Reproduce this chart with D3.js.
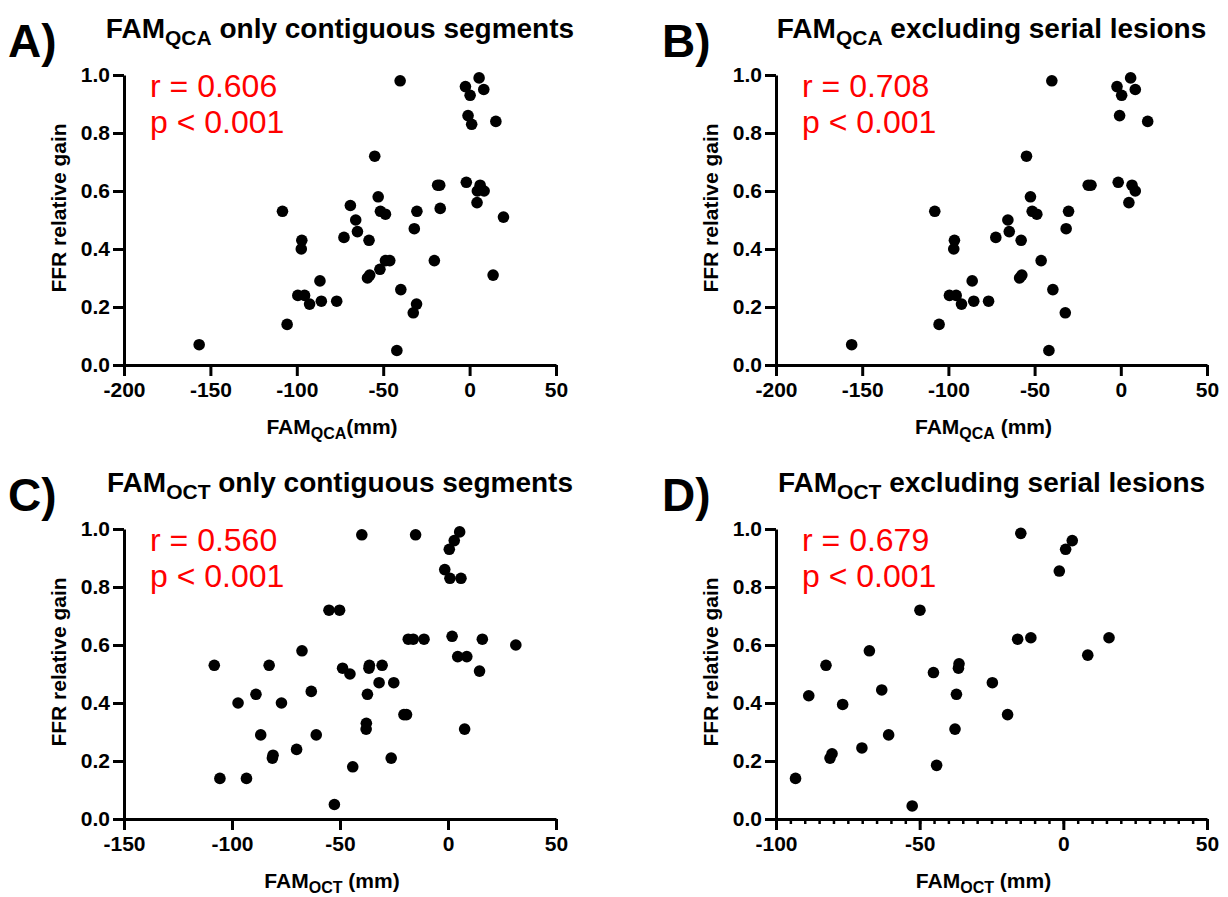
<!DOCTYPE html>
<html>
<head>
<meta charset="utf-8">
<script src="https://cdn.jsdelivr.net/npm/d3@7"></script>
<style>
  html, body { margin: 0; padding: 0; background: #fff; }
  svg { display: block; font-family: "Liberation Sans", Arial, sans-serif; }
</style>
</head>
<body>
<svg id="chart" width="1228" height="897"></svg>
<script>
// ---------- data ----------
const yTicks = [0, 0.2, 0.4, 0.6, 0.8, 1.0];
const xTicksQCA = [-200, -150, -100, -50, 0, 50];
const xTicksOCTc = [-150, -100, -50, 0, 50];
const xTicksOCTd = [-100, -50, 0, 50];

const panelLetters = ["A)", "B)", "C)", "D)"];
const titleSubs = ["QCA", "QCA", "OCT", "OCT"];
const titleRest = [" only contiguous segments", " excluding serial lesions", " only contiguous segments", " excluding serial lesions"];
const xLabelRest = ["(mm)", " (mm)", " (mm)", " (mm)"];
const yLabel = "FFR relative gain";
const rValues = ["r = 0.606", "r = 0.708", "r = 0.560", "r = 0.679"];
const pValues = ["p < 0.001", "p < 0.001", "p < 0.001", "p < 0.001"];

const aX = [-156.5,-108.3,-105.6,-97.1,-97.4,-99.4,-95.5,-92.6,-86.6,-85.8,-76.9,-72.7,-69.0,-65.9,-64.9,-58.2,-54.9,-52.9,-59.1,-57.8,-51.9,-51.6,-48.7,-48.7,-46.2,-40.2,-39.8,-42.1,-32.0,-30.5,-32.6,-30.7,-20.4,-18.5,-17.3,-17.0,-2.4,0.3,5.5,8.2,-0.9,1.2,15.2,-1.9,6.1,4.5,8.4,4.3,19.6,13.6];
const aY = [0.07,0.53,0.14,0.43,0.40,0.24,0.24,0.21,0.29,0.22,0.22,0.44,0.55,0.50,0.46,0.43,0.72,0.58,0.30,0.31,0.33,0.53,0.52,0.36,0.36,0.98,0.26,0.05,0.47,0.53,0.18,0.21,0.36,0.62,0.62,0.54,0.96,0.93,0.99,0.95,0.86,0.83,0.84,0.63,0.62,0.60,0.60,0.56,0.51,0.31];

const bX = [-156.1,-107.9,-105.4,-96.5,-96.9,-99.4,-95.5,-92.4,-86.2,-85.3,-76.7,-72.5,-65.5,-64.7,-57.8,-54.7,-52.4,-58.7,-57.4,-51.4,-48.7,-46.2,-40.0,-39.4,-41.7,-31.7,-30.3,-32.2,-18.9,-17.3,-2.2,0.5,5.7,8.4,-0.7,15.6,-1.5,6.5,8.4,4.7];
const bY = [0.07,0.53,0.14,0.43,0.40,0.24,0.24,0.21,0.29,0.22,0.22,0.44,0.50,0.46,0.43,0.72,0.58,0.30,0.31,0.53,0.52,0.36,0.98,0.26,0.05,0.47,0.53,0.18,0.62,0.62,0.96,0.93,0.99,0.95,0.86,0.84,0.63,0.62,0.60,0.56];

const cX = [-108.2,-105.6,-93.3,-97.2,-88.9,-82.8,-86.7,-81.0,-81.3,-77.1,-70.1,-67.6,-63.3,-61.0,-55.1,-50.2,-52.6,-48.8,-45.4,-44.1,-39.9,-37.3,-36.6,-36.4,-37.8,-37.9,-30.5,-31.9,-25.1,-26.3,-20.4,-19.2,-18.4,-16.1,-11.1,-15.0,-1.5,0.6,2.9,5.4,0.9,6.0,1.9,4.5,8.7,7.7,15.9,14.6,31.4];
const cY = [0.53,0.14,0.14,0.40,0.43,0.53,0.29,0.22,0.21,0.40,0.24,0.58,0.44,0.29,0.72,0.72,0.05,0.52,0.50,0.18,0.98,0.43,0.52,0.53,0.33,0.31,0.53,0.47,0.47,0.21,0.36,0.36,0.62,0.62,0.62,0.98,0.86,0.93,0.96,0.99,0.83,0.83,0.63,0.56,0.56,0.31,0.62,0.51,0.60];

const dX = [-93.2,-88.6,-82.6,-81.2,-80.5,-76.8,-70.1,-67.5,-63.2,-60.8,-52.6,-49.9,-45.2,-44.1,-37.7,-37.2,-36.5,-36.3,-24.7,-19.4,-15.9,-14.8,-11.3,-1.4,0.8,3.1,8.5,15.9];
const dY = [0.14,0.425,0.53,0.21,0.225,0.395,0.245,0.58,0.445,0.29,0.045,0.72,0.505,0.185,0.31,0.43,0.52,0.535,0.47,0.36,0.62,0.985,0.625,0.855,0.93,0.96,0.565,0.625];

// ---------- layout ----------
const FONT = '"Liberation Sans", Arial, sans-serif';
const panels = [
  { xs: aX, ys: aY, ticks: xTicksQCA, minor: null, x0: 124, x1: 556, y0: 75, y1: 365, lx: 8, oy: 0 },
  { xs: bX, ys: bY, ticks: xTicksQCA, minor: null, x0: 776, x1: 1207, y0: 75, y1: 365, lx: 662, oy: 0 },
  { xs: cX, ys: cY, ticks: xTicksOCTc, minor: null, x0: 124, x1: 556, y0: 529, y1: 819, lx: 8, oy: 454 },
  { xs: dX, ys: dY, ticks: xTicksOCTd, minor: 5, x0: 776, x1: 1207, y0: 529, y1: 819, lx: 662, oy: 454 }
];

const svg = d3.select("#chart");
const hyphenFmt = d => String(d).replace("\u2212", "-");

function subText(sel, parts, subSize, shift) {
  sel.append("tspan").text(parts[0]);
  sel.append("tspan").attr("font-size", subSize).attr("dy", shift).text(parts[1]);
  sel.append("tspan").attr("dy", -shift).text(parts[2]);
}

panels.forEach((p, i) => {
  const g = svg.append("g");
  const xd = [p.ticks[0], p.ticks[p.ticks.length - 1]];
  const x = d3.scaleLinear().domain(xd).range([p.x0, p.x1]);
  const y = d3.scaleLinear().domain([0, 1]).range([p.y1, p.y0]);
  const cx = (p.x0 + p.x1) / 2;

  // panel letter
  g.append("text").attr("x", p.lx).attr("y", 57 + p.oy)
    .attr("font-size", 46).attr("font-weight", "bold").attr("font-family", FONT)
    .text(panelLetters[i]);

  // title
  const t = g.append("text").attr("x", cx).attr("y", 38 + p.oy)
    .attr("text-anchor", "middle").attr("font-size", 28).attr("font-weight", "bold")
    .attr("font-family", FONT);
  subText(t, ["FAM", titleSubs[i], titleRest[i]], 21, 7);

  // minor ticks (panel D)
  if (p.minor) {
    const mt = d3.range(xd[0], xd[1] + 0.001, p.minor);
    const ma = d3.axisBottom(x).tickValues(mt).tickSize(5).tickFormat("").tickSizeOuter(0);
    const mg = g.append("g").attr("transform", `translate(0,${p.y1})`).call(ma);
    mg.select(".domain").remove();
    mg.selectAll("line").attr("stroke", "#000").attr("stroke-width", 2.5);
  }

  // x axis
  const xa = d3.axisBottom(x).tickValues(p.ticks).tickSize(11).tickSizeOuter(0)
    .tickPadding(6).tickFormat(d => String(d));
  const xg = g.append("g").attr("transform", `translate(0,${p.y1})`).call(xa);
  xg.select(".domain").attr("stroke", "#000").attr("stroke-width", 3);
  xg.selectAll(".tick line").attr("stroke", "#000").attr("stroke-width", 3);
  xg.selectAll("text").attr("font-size", 21).attr("font-weight", "bold")
    .attr("font-family", FONT).attr("fill", "#000");

  // y axis
  const ya = d3.axisLeft(y).tickValues(yTicks).tickSize(11).tickSizeOuter(0)
    .tickPadding(3).tickFormat(d3.format(".1f"));
  const yg = g.append("g").attr("transform", `translate(${p.x0},0)`).call(ya);
  yg.select(".domain").attr("stroke", "#000").attr("stroke-width", 3);
  yg.selectAll(".tick line").attr("stroke", "#000").attr("stroke-width", 3);
  yg.selectAll("text").attr("font-size", 21).attr("font-weight", "bold")
    .attr("font-family", FONT).attr("fill", "#000");

  // x label
  const xl = g.append("text").attr("x", cx - 8).attr("y", p.y1 + 69)
    .attr("text-anchor", "middle").attr("font-size", 21).attr("font-weight", "bold")
    .attr("font-family", FONT);
  subText(xl, ["FAM", titleSubs[i], xLabelRest[i]], 16, 5);

  // y label
  g.append("text")
    .attr("transform", `translate(${p.x0 - 58},${(p.y0 + p.y1) / 2 - 12}) rotate(-90)`)
    .attr("text-anchor", "middle").attr("font-size", 21).attr("font-weight", "bold")
    .attr("font-family", FONT).text(yLabel);

  // stats
  g.append("text").attr("x", p.x0 + 26).attr("y", p.y0 + 22)
    .attr("font-size", 32).attr("fill", "#ff0000").attr("font-family", FONT)
    .text(rValues[i]);
  g.append("text").attr("x", p.x0 + 26).attr("y", p.y0 + 58)
    .attr("font-size", 32).attr("fill", "#ff0000").attr("font-family", FONT)
    .text(pValues[i]);

  // points
  g.append("g").selectAll("circle")
    .data(p.xs.map((v, k) => [v, p.ys[k]]))
    .join("circle")
    .attr("cx", d => x(d[0])).attr("cy", d => y(d[1]))
    .attr("r", 5.8).attr("fill", "#000");
});
</script>
</body>
</html>
